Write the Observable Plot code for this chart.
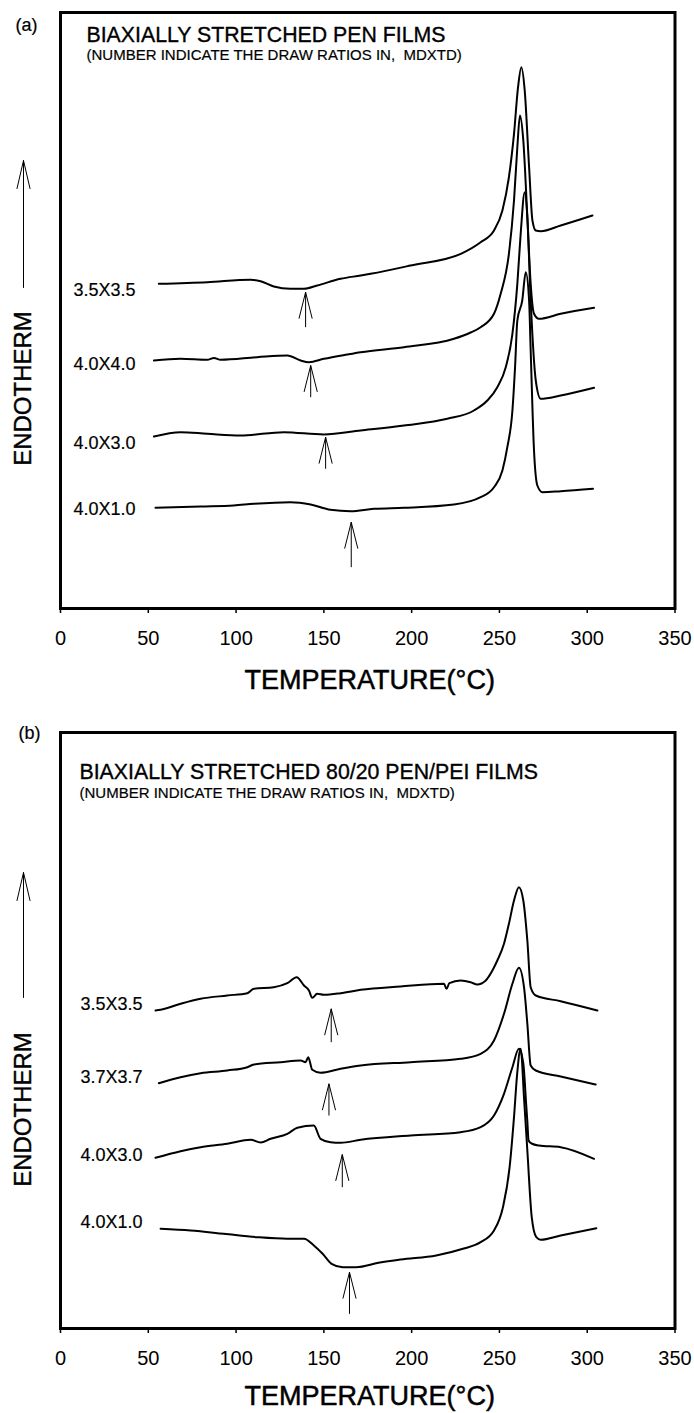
<!DOCTYPE html>
<html>
<head>
<meta charset="utf-8">
<script src="https://cdn.jsdelivr.net/npm/d3@7"></script>
<script src="https://cdn.jsdelivr.net/npm/@observablehq/plot@0.6"></script>
<style>
  html, body { margin: 0; padding: 0; background: #fff; }
  #chart { width: 694px; }
  #chart svg { display: block; }
  #chart svg text { white-space: pre; }
</style>
</head>
<body>
<div id="chart"></div>
<script>
// ---------- data (temperature °C, endotherm in arbitrary units) ----------
const xTicks = [0, 50, 100, 150, 200, 250, 300, 350];

const titleA = "BIAXIALLY STRETCHED PEN FILMS";
const titleB = "BIAXIALLY STRETCHED 80/20 PEN/PEI FILMS";
const subtitleText = "(NUMBER INDICATE THE DRAW RATIOS IN,  MDXTD)";
const xLabel = "TEMPERATURE(°C)";
const yLabel = "ENDOTHERM";

// Panel (a): PEN films
const seriesA = ["3.5X3.5", "4.0X4.0", "4.0X3.0", "4.0X1.0"];
const penA_35x35 = [[56,324.7],[83.6,326.3],[108.3,328.7],[114,327.3],[121.5,322],[131,319.7],[138.7,319.7],[146.2,323],[159.5,329.7],[171,333],[176.6,334.7],[199.4,343],[228,354.7],[239.3,366.3],[246.9,378],[251.7,398],[255.4,431.3],[258.3,474.7],[260.6,521.3],[262.5,541.3],[264.4,518],[266.9,441.3],[268.8,388],[270.7,378],[273.5,377.3],[284.9,383],[303,393]];
const penA_40x40 = [[53.2,248],[68.4,249.7],[83.6,248.7],[87.4,250.6],[91.2,248.7],[112,251.3],[129.2,253],[136.8,248],[141.5,246.3],[150,249.7],[163.3,254],[171,256.3],[195.6,261.3],[224.1,269.7],[233.6,276],[239.3,281.3],[246.9,294.7],[250.7,314.7],[255.4,354.7],[258.3,408],[260.2,461.3],[261.7,493],[263.6,468],[265.9,391.3],[267.8,324.7],[269.7,294.7],[272.5,289.7],[284.9,294.7],[303.9,300.7]];
const penA_40x30 = [[53.2,172],[68.4,176.3],[83.6,174.7],[102.6,173],[127.2,176.3],[150,174],[171,178],[195.6,183],[220.3,189.7],[235.5,198],[243.1,208],[248.8,221.3],[253.6,241.3],[257.4,274.7],[260.2,324.7],[262.1,374.7],[264.4,416.3],[265.9,391.3],[267.8,308],[270.7,228],[273.5,209.7],[284.9,213],[303.9,220.7]];
const penA_40x10 = [[54.1,100.7],[79.8,102],[98.7,103],[110.1,104.7],[131,106.3],[142.5,104],[153.8,98.7],[165.2,97.3],[178.5,99.7],[195.6,100.7],[224.1,104],[239.3,111.3],[246.9,121.3],[251.7,138],[254.5,161.3],[257.4,198],[258.9,241.3],[260.2,288],[263,308],[265,336.3],[266.9,308],[267.8,258],[269.7,158],[271.6,123],[274.5,116.3],[284.9,117.3],[303.3,119.7]];
const labelLevelA = [318, 244, 165, 99];
const onsetTempA = [139.6, 142.5, 151, 165.6];
const onsetTipA  = [316.3, 243, 171.3, 86.3];
const onsetTailA = [281.3, 211.3, 139.7, 41.3];

// Panel (b): 80/20 PEN/PEI films
const seriesB = ["3.5X3.5", "3.7X3.7", "4.0X3.0", "4.0X1.0"];
const blendB_35x35 = [[54.1,318],[57,318.7],[68.4,324.7],[79.8,329.7],[95,333],[106.4,335.3],[110.1,339.7],[121.5,341.3],[129.2,345.3],[134.5,351.3],[138.7,343],[141.5,338],[143.4,330.7],[146.2,334.7],[150,333.7],[159.5,335.3],[171,338.7],[193.7,342],[218.4,344.7],[219.9,339.7],[221.5,345.3],[227.9,348],[233.6,346.3],[237.4,344],[242.2,348],[246,358],[248.8,368],[252.6,384.7],[255.4,404.7],[258.3,428],[261.1,441.3],[263.6,428],[265.9,388],[267.8,341.3],[270.7,333],[284.9,327.3],[305.8,318]];
const blendB_37x37 = [[56,245.3],[68.4,251.3],[79.8,255.3],[95,258],[106.4,261.3],[110.1,264],[125.4,266.3],[136.8,268],[139.6,266.3],[141.1,271.3],[143.4,258.7],[148.1,255.7],[159.5,259.7],[171,263],[199.4,266.3],[227.9,269.7],[239.3,274.7],[246.9,288],[252.6,314.7],[257.4,344.7],[261.1,360.7],[264,341.3],[265.9,304.7],[267.8,263],[270.7,258],[284.9,252],[304.8,244]];
const blendB_40x30 = [[54.1,170.7],[68.4,177.3],[79.8,181.3],[95,184.7],[108.3,188.7],[114,186],[119.7,189.7],[129.2,194.7],[134.9,200.7],[144.3,203],[148.1,189.7],[153.8,186.3],[159.5,185.7],[171,188.7],[199.4,193],[227.9,196.3],[239.3,201.3],[246.9,213],[252.6,234.7],[257.4,261.3],[261.1,279.7],[263.6,265],[265.2,225],[265.9,207],[266.6,188],[268.3,185],[272.5,183],[284.9,181.3],[303.9,169.7]];
const blendB_40x10 = [[57,99.7],[74.1,98],[93,94.7],[112,91.3],[129.2,89.7],[138.7,89.7],[144.3,83],[149.3,74.7],[154.4,64.7],[160.7,61.3],[168.4,61.3],[181.1,65.7],[193.7,69],[214,73],[229.2,79.7],[239.3,86.3],[246.9,98],[252,121.3],[255.8,161.3],[258.3,211.3],[260.1,254.7],[262.1,279.7],[264.1,228],[265.9,178],[268.4,111.3],[271,91.3],[273.5,88.7],[284.9,93],[305.2,100.3]];
const labelLevelB = [324.7, 251.3, 173, 106.3];
const onsetTempB = [154.2, 152.9, 160.5, 164.6];
const onsetTipB  = [319.7, 244.7, 174, 56.3];
const onsetTailB = [286.3, 213, 141.3, 14.7];

// ---------- drawing ----------
const FONT = "'Liberation Sans', Arimo, Arial, sans-serif";
const INK = {fill: "#000", stroke: "#000", strokeWidth: 0.35};

const wingShape = {
  draw(ctx) { ctx.moveTo(-6.5, 26); ctx.lineTo(0, 0); ctx.lineTo(6.5, 26); }
};
const axisArrowShape = {
  draw(ctx, l) {
    ctx.moveTo(0, 0); ctx.lineTo(0, -l);
    ctx.moveTo(-6.5, -l + 28); ctx.lineTo(0, -l); ctx.lineTo(6.5, -l + 28);
  }
};

function panel(p) {
  const rows = p.series.flatMap((name, i) => p.curves[i].map(([t, v]) => ({name, t, v})));
  const arrows = p.arrowT.map((t, i) => ({t, tip: p.arrowTip[i], tail: p.arrowTail[i]}));
  const labels = p.series.map((name, i) => ({name, v: p.labelLevel[i]}));
  return Plot.plot({
    width: 694,
    height: p.height,
    marginLeft: 60, marginRight: 19.5, marginTop: p.top, marginBottom: p.bottom,
    style: {fontFamily: FONT, color: "#000", background: "#fff", overflow: "visible"},
    x: {domain: [0, 350], axis: null},
    y: {domain: [0, 596], axis: null},
    marks: [
      Plot.axisX({ticks: xTicks, tickSize: 5, tickPadding: 17, fontSize: 20, label: null, strokeWidth: 1.5, tickFormat: (d) => `${d}`}),
      Plot.frame({stroke: "#000", strokeWidth: 3}),
      Plot.line(rows, {x: "t", y: "v", z: "name", curve: "monotone-x", stroke: "#000", strokeWidth: 2}),
      Plot.link(arrows, {x1: "t", x2: "t", y1: "tail", y2: "tip", stroke: "#000", strokeWidth: 1}),
      Plot.vector(arrows, {x: "t", y: "tip", length: 1, anchor: "start", shape: wingShape, stroke: "#000", strokeWidth: 1, fill: "none"}),
      Plot.text(labels, {y: "v", text: "name", frameAnchor: "left", dx: p.labelDx, textAnchor: "start", lineAnchor: "middle", fontSize: 18, ...INK, strokeWidth: 0.2}),
      Plot.text([p.title], {text: (d) => d, frameAnchor: "top-left", dx: p.titleDx, dy: p.titleDy, textAnchor: "start", lineAnchor: "bottom", fontSize: 21.3, ...INK}),
      Plot.text([subtitleText], {text: (d) => d, frameAnchor: "top-left", dx: p.titleDx, dy: p.subDy, textAnchor: "start", lineAnchor: "bottom", fontSize: 15, ...INK, strokeWidth: 0.2}),
      Plot.text([p.tag], {text: (d) => d, frameAnchor: "top-left", dx: p.tagDx, dy: p.tagDy, textAnchor: "start", lineAnchor: "bottom", fontSize: 18, ...INK, strokeWidth: 0.2}),
      Plot.text([xLabel], {text: (d) => d, frameAnchor: "bottom", dx: 2, dy: p.xLabelDy, textAnchor: "middle", lineAnchor: "bottom", fontSize: 27, ...INK, strokeWidth: 0.5}),
      Plot.text([yLabel], {text: (d) => d, frameAnchor: "top-left", dx: -37, dy: p.yLabelDy, rotate: -90, textAnchor: "middle", lineAnchor: "middle", fontSize: 24, ...INK, strokeWidth: 0.4}),
      Plot.vector([0], {frameAnchor: "top-left", dx: -37, dy: p.yArrowDy, length: p.yArrowLen, anchor: "start", shape: axisArrowShape, stroke: "#000", strokeWidth: 1, fill: "none"})
    ]
  });
}

const chart = document.getElementById("chart");
chart.append(panel({
  height: 700, top: 12, bottom: 92,
  series: seriesA, curves: [penA_35x35, penA_40x40, penA_40x30, penA_40x10],
  arrowT: onsetTempA, arrowTip: onsetTipA, arrowTail: onsetTailA,
  labelLevel: labelLevelA, labelDx: 13,
  title: titleA, titleDx: 26, titleDy: 29, subDy: 47.5,
  tag: "(a)", tagDx: -45, tagDy: 18,
  xLabelDy: 80, yLabelDy: 376, yArrowDy: 275, yArrowLen: 127
}));
chart.append(panel({
  height: 713, top: 32, bottom: 85,
  series: seriesB, curves: [blendB_35x35, blendB_37x37, blendB_40x30, blendB_40x10],
  arrowT: onsetTempB, arrowTip: onsetTipB, arrowTail: onsetTailB,
  labelLevel: labelLevelB, labelDx: 20,
  title: titleB, titleDx: 19, titleDy: 46, subDy: 65,
  tag: "(b)", tagDx: -42, tagDy: 6,
  xLabelDy: 76, yLabelDy: 377, yArrowDy: 265, yArrowLen: 125
}));
</script>
</body>
</html>
